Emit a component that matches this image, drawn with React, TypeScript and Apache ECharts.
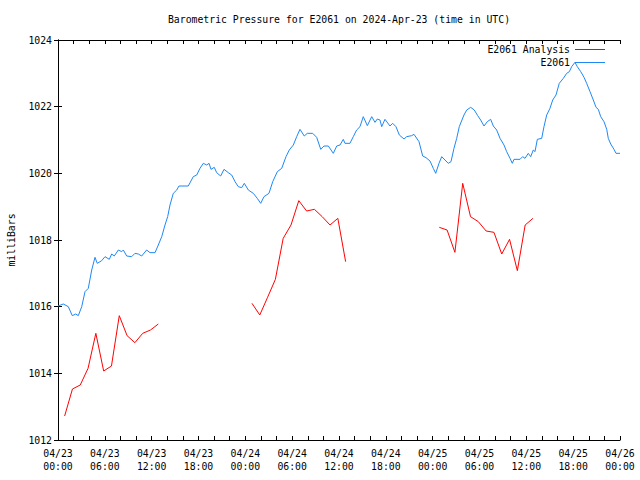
import React, { useEffect, useRef } from "react";
import * as echarts from "echarts";

const FONT = '"DejaVu Sans Mono", "Liberation Mono", monospace';

const titleText = "Barometric Pressure for E2061 on 2024-Apr-23 (time in UTC)";
const yAxisName = "milliBars";
const seriesNames = ["E2061 Analysis", "E2061"];

// x tick labels every 6 hours (hours since 04/23 00:00 UTC)
const xTickLabels = [
  "04/23\n00:00", "04/23\n06:00", "04/23\n12:00", "04/23\n18:00",
  "04/24\n00:00", "04/24\n06:00", "04/24\n12:00", "04/24\n18:00",
  "04/25\n00:00", "04/25\n06:00", "04/25\n12:00", "04/25\n18:00",
  "04/26\n00:00",
];

// E2061 observed (hours since start, mb)
const blueHours = [0, 0.68, 1.32, 1.83, 2.27, 2.6, 3.04, 3.46, 3.88, 4.32, 4.74, 5.03, 5.6, 6.02, 6.57, 6.88, 7.21, 7.73, 8.16, 8.37, 8.8, 9.44, 9.86, 10.29, 10.72, 11.36, 11.79, 12.43, 12.85, 13.29, 13.71, 14.05, 14.35, 14.77, 15.21, 15.5, 16.69, 17.33, 17.77, 18.19, 18.62, 19.05, 19.35, 19.6, 20.02, 20.33, 20.84, 21.27, 21.82, 22.25, 22.68, 23.1, 23.53, 23.87, 24.38, 25.02, 25.53, 25.97, 26.39, 27.03, 27.51, 28.1, 28.66, 29.21, 29.63, 30.15, 30.58, 31.0, 31.55, 31.94, 32.63, 33.14, 33.66, 34.08, 34.63, 35.27, 35.71, 36.13, 36.55, 36.77, 37.4, 37.83, 38.26, 38.69, 39.11, 39.63, 40.19, 40.61, 40.91, 41.25, 41.47, 41.89, 42.53, 42.88, 43.3, 43.73, 44.33, 44.67, 45.31, 45.61, 46.25, 46.72, 47.15, 47.66, 48.08, 48.39, 48.81, 49.16, 49.58, 50.0, 50.35, 50.73, 51.08, 51.41, 52.01, 52.36, 52.87, 53.33, 53.77, 54.15, 54.58, 55.0, 55.43, 55.77, 56.2, 56.63, 57.14, 57.48, 57.91, 58.2, 58.42, 59.19, 59.53, 59.83, 60.25, 60.56, 60.89, 61.11, 61.41, 61.97, 62.26, 62.61, 63.03, 63.38, 63.8, 64.22, 64.74, 65.17, 65.51, 65.81, 66.23, 66.53, 66.97, 67.39, 67.73, 68.16, 68.58, 68.93, 69.22, 69.53, 69.95, 70.3, 70.5, 70.81, 71.23, 71.49, 72.0];
const blueValues = [1016.02, 1016.08, 1016.0, 1015.73, 1015.78, 1015.73, 1016.0, 1016.45, 1016.55, 1017.1, 1017.48, 1017.3, 1017.38, 1017.5, 1017.42, 1017.58, 1017.52, 1017.7, 1017.65, 1017.7, 1017.52, 1017.5, 1017.6, 1017.58, 1017.52, 1017.7, 1017.62, 1017.62, 1017.85, 1018.1, 1018.45, 1018.7, 1019.05, 1019.4, 1019.5, 1019.62, 1019.62, 1019.9, 1019.95, 1020.15, 1020.3, 1020.25, 1020.3, 1020.12, 1020.18, 1020.02, 1019.92, 1020.12, 1020.02, 1019.95, 1019.75, 1019.6, 1019.57, 1019.7, 1019.5, 1019.4, 1019.25, 1019.1, 1019.3, 1019.4, 1019.75, 1020.05, 1020.15, 1020.5, 1020.7, 1020.85, 1021.1, 1021.32, 1021.12, 1021.2, 1021.2, 1021.08, 1020.72, 1020.82, 1020.82, 1020.6, 1020.82, 1020.85, 1021.02, 1020.9, 1020.9, 1021.1, 1021.3, 1021.4, 1021.7, 1021.43, 1021.7, 1021.53, 1021.63, 1021.6, 1021.4, 1021.62, 1021.42, 1021.5, 1021.4, 1021.15, 1021.03, 1021.1, 1021.13, 1021.17, 1020.95, 1020.52, 1020.47, 1020.37, 1020.15, 1020.0, 1020.3, 1020.5, 1020.4, 1020.3, 1020.35, 1020.75, 1021.05, 1021.4, 1021.75, 1021.9, 1021.98, 1021.9, 1021.73, 1021.6, 1021.42, 1021.55, 1021.62, 1021.42, 1021.3, 1021.05, 1020.85, 1020.65, 1020.45, 1020.3, 1020.42, 1020.42, 1020.5, 1020.45, 1020.6, 1020.5, 1020.7, 1020.65, 1021.02, 1021.05, 1021.4, 1021.75, 1021.95, 1022.2, 1022.35, 1022.7, 1022.85, 1023.0, 1023.05, 1023.2, 1023.33, 1023.2, 1023.05, 1022.88, 1022.7, 1022.45, 1022.2, 1021.98, 1021.92, 1021.7, 1021.55, 1021.32, 1021.05, 1020.88, 1020.72, 1020.6, 1020.6];

// E2061 Analysis, three runs (hours since start, mb)
const redHours1 = [0.85, 1.85, 2.85, 3.85, 4.85, 5.85, 6.85, 7.85, 8.85, 9.85, 10.85, 11.85, 12.85];
const redValues1 = [1012.72, 1013.53, 1013.65, 1014.15, 1015.2, 1014.07, 1014.22, 1015.73, 1015.13, 1014.92, 1015.2, 1015.3, 1015.48];
const redHours2 = [24.85, 25.85, 26.85, 27.85, 28.85, 29.85, 30.85, 31.85, 32.85, 33.85, 34.85, 35.85, 36.85];
const redValues2 = [1016.1, 1015.75, 1016.28, 1016.82, 1018.05, 1018.45, 1019.18, 1018.87, 1018.92, 1018.7, 1018.45, 1018.65, 1017.35];
const redHours3 = [48.85, 49.85, 50.85, 51.85, 52.85, 53.85, 54.85, 55.85, 56.85, 57.85, 58.85, 59.85, 60.85];
const redValues3 = [1018.38, 1018.3, 1017.63, 1019.7, 1018.7, 1018.55, 1018.27, 1018.23, 1017.58, 1018.02, 1017.08, 1018.45, 1018.65];

export default function App() {
  const ref = useRef<HTMLDivElement>(null);
  useEffect(() => {
    const chart = echarts.init(ref.current!, null, { renderer: "svg" });
    const pair = (hs: number[], vs: number[]) => hs.map((h, i) => [h, vs[i]]);
    const redData: any[] = [
      ...pair(redHours1, redValues1),
      [redHours1[redHours1.length - 1] + 0.5, "-"],
      ...pair(redHours2, redValues2),
      [redHours2[redHours2.length - 1] + 0.5, "-"],
      ...pair(redHours3, redValues3),
    ];
    const blueData = pair(blueHours, blueValues);
    const tickStyle = { inside: true, length: 4, lineStyle: { color: "#000", width: 1 } };
    const lineStyle = { lineStyle: { color: "#000", width: 1 } };
    const xBase = { type: "value", min: 0, max: 72, interval: 2, splitLine: { show: false }, axisLine: lineStyle, axisTick: tickStyle };
    const yBase = { type: "value", min: 1012, max: 1024, interval: 2, splitLine: { show: false }, axisLine: lineStyle, axisTick: tickStyle };
    chart.setOption({
      animation: false,
      backgroundColor: "#fff",
      textStyle: { fontFamily: FONT },
      grid: { left: 58, right: 20, top: 40, bottom: 40, containLabel: false, outerBoundsMode: "none" },
      graphic: [
        {
          type: "text",
          x: 339,
          y: 19,
          style: { text: titleText, fontFamily: FONT, fontSize: 9.8, fill: "#000", textAlign: "center", textVerticalAlign: "middle" },
        },
      ],
      legend: {
        orient: "vertical",
        align: "right",
        right: 30,
        top: 38,
        itemWidth: 30,
        itemHeight: 1,
        itemGap: 0,
        icon: "rect",
        data: seriesNames,
        textStyle: { fontFamily: FONT, fontSize: 9.8, color: "#000", lineHeight: 13 },
      },
      xAxis: [
        {
          ...xBase,
          position: "bottom",
          axisLabel: {
            color: "#000",
            fontFamily: FONT,
            fontSize: 9.8,
            lineHeight: 13,
            margin: 7,
            formatter: (v: number) => (v % 6 === 0 ? xTickLabels[v / 6] : ""),
          },
        },
        { ...xBase, position: "top", axisLabel: { show: false } },
      ],
      yAxis: [
        {
          ...yBase,
          position: "left",
          name: yAxisName,
          nameLocation: "middle",
          nameGap: 42,
          nameTextStyle: { fontFamily: FONT, fontSize: 9.8, color: "#000" },
          axisLabel: { color: "#000", fontFamily: FONT, fontSize: 9.8, margin: 6, formatter: (v: number) => String(v) },
        },
        { ...yBase, position: "right", axisLabel: { show: false } },
      ],
      series: [
        {
          name: seriesNames[0],
          type: "line",
          xAxisIndex: 0,
          yAxisIndex: 0,
          data: redData,
          showSymbol: false,
          symbol: "none",
          connectNulls: false,
          color: "#ff0000",
          lineStyle: { color: "#ff0000", width: 1 },
        },
        {
          name: seriesNames[1],
          type: "line",
          xAxisIndex: 0,
          yAxisIndex: 0,
          data: blueData,
          showSymbol: false,
          symbol: "none",
          color: "#1e88f5",
          lineStyle: { color: "#1e88f5", width: 1 },
        },
      ],
    });
    return () => chart.dispose();
  }, []);
  return <div ref={ref} style={{ position: "absolute", left: 0, top: 0, width: 640, height: 480 }} />;
}
